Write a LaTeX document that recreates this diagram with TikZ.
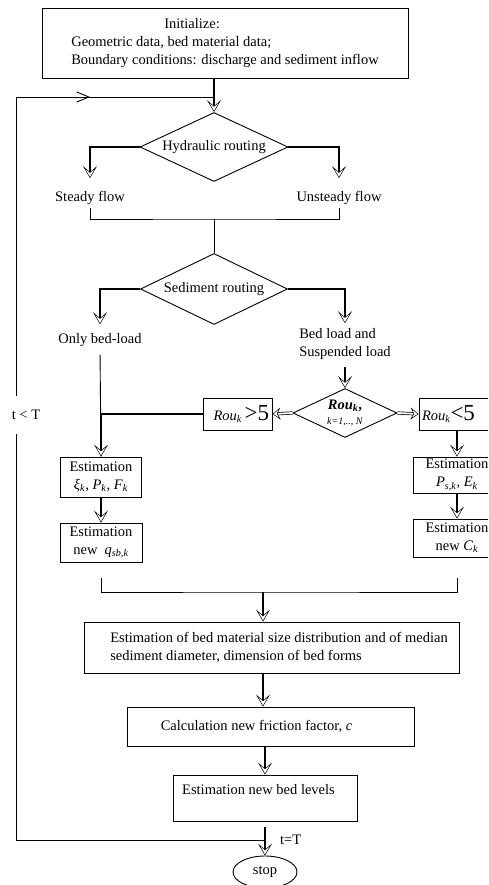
\documentclass[tikz,border=0pt]{standalone}
\usepackage{fontspec}
\setmainfont{Liberation Serif}
\usetikzlibrary{shapes.geometric,arrows.meta,positioning}
\newcommand{\fsize}{\fontsize{14.5}{18}\selectfont}

\begin{document}
\begin{tikzpicture}[x=1pt, y=-1pt,
  box/.style={rectangle, draw, line width=0.9pt, font=\fsize, align=center, inner sep=0pt},
  decision/.style={diamond, draw, line width=0.9pt, font=\fsize, align=center, inner sep=0pt},
  lbl/.style={font=\fsize, inner sep=3pt, align=left},
  line/.style={line width=0.9pt},
  flow/.style={line width=1.5pt, -{Stealth[fill=white, length=12pt, width=14pt, inset=6pt, line width=0.5pt]}},
  dflow/.style={double, double distance=1.8pt, line width=0.7pt, -{Stealth[fill=white, length=8pt, width=12pt, inset=3pt, line width=0.5pt]}},
  barb/.style={line width=0.9pt, -{Straight Barb[length=12pt, width=10pt]}}
]
\useasboundingbox (0,0) rectangle (488,885);
\clip (0,0) rectangle (488,885);

% Start and hydraulic routing
\node[box, align=left, minimum width=366pt, minimum height=70pt] (init) at (225,43)
  {\hspace*{93pt}Initialize:\\Geometric data, bed material data;\\Boundary conditions: discharge and sediment inflow};
\node[decision, minimum width=148pt, minimum height=69pt, aspect=2.14] (hyd) at (214,147) {Hydraulic routing};
\node[lbl] (steady) at (90,198) {Steady flow};
\node[lbl] (unsteady) at (339,198) {Unsteady flow};

% Sediment routing
\node[decision, minimum width=147pt, minimum height=71pt, aspect=2.07] (sed) at (214,289) {Sediment routing};
\node[lbl] (onlybed) at (100,340) {Only bed-load};
\node[lbl] (bedsusp) at (345,344) {Bed load and\\Suspended load};
\node[decision, minimum width=104pt, minimum height=49pt, aspect=2.12] (rou) at (345,413)
  {\textbf{\textit{Rou}}\textsubscript{\textbf{\textit{k}}}\textbf{,}\\[-3pt]{\fontsize{10}{11}\selectfont\textit{k=1,.., N}}};
\node[box, minimum width=69pt, minimum height=32pt, text width=63pt, align=right] (roug) at (237.5,414)
  {\textit{Rou}\textsubscript{\textit{k}}\,{\fontsize{23}{23}\selectfont >5}};
\node[box, minimum width=76pt, minimum height=32pt, text width=70pt, align=left] (roul) at (457,414)
  {\textit{Rou}\textsubscript{\textit{k}}{\fontsize{23}{23}\selectfont <5}};

% Estimation boxes, left and right
\node[box, minimum width=81pt, minimum height=40pt] (estxi) at (101,477)
  {Estimation\\\textit{ξ}\textsubscript{\textit{k}}, \textit{P}\textsubscript{\textit{k}}, \textit{F}\textsubscript{\textit{k}}};
\node[box, minimum width=82pt, minimum height=39pt] (estq) at (101,542.5)
  {Estimation\\new~ \textit{q}\textsubscript{\textit{sb,k}}};
\node[box, minimum width=88pt, minimum height=36pt] (estp) at (457,475)
  {Estimation\\\textit{P}\textsubscript{\textit{s,k}}, \textit{E}\textsubscript{\textit{k}}};
\node[box, minimum width=88pt, minimum height=38pt] (estc) at (457,538)
  {Estimation\\new \textit{C}\textsubscript{\textit{k}}};

% Bed update chain
\node[box, align=left, minimum width=375pt, minimum height=51pt] (bedmat) at (271.5,647.5)
  {\hspace*{15pt}Estimation of bed material size distribution and of median\\\hspace*{15pt}sediment diameter, dimension of bed forms};
\node[box, minimum width=287pt, minimum height=39pt] (calc) at (270.5,726.5)
  {Calculation new friction factor, \textit{c}\hspace*{28pt}};
\node[box, align=left, minimum width=184pt, minimum height=46pt] (bedlev) at (265,798)
  {Estimation new bed levels\hspace*{13pt}\\\mbox{}};
\node[ellipse, draw, line width=0.9pt, minimum width=64pt, minimum height=32pt, inner sep=0pt, font=\fsize] (stop) at (265,872) {stop};

\coordinate (topjoin) at (214,97);
\coordinate (looptop) at (16,97);
\coordinate (loopmid) at (90,97);
\coordinate (flowjoin) at (214,219);
\coordinate (mergeb) at (263,592);
\coordinate (tjunc) at (265,840);
\node[lbl, inner sep=0pt, right=15pt of tjunc] (teqT) {t=T};

\draw[flow] (init.south -| hyd.north) -- (hyd.north);
\draw[line] (tjunc) -| (looptop) -- (topjoin);
\draw[barb] (looptop) -- (loopmid);
\draw[flow, shorten >=10pt] (hyd.west) -| (steady.north);
\draw[flow, shorten >=10pt] (hyd.east) -| (unsteady.north);
\draw[line] (steady.south) |- (flowjoin) -| (unsteady.south);
\draw[line] (flowjoin) -- (sed.north);
\draw[flow, shorten >=6pt] (sed.west) -| (onlybed.north);
\draw[flow, shorten >=2pt] (sed.east) -| (bedsusp.north);
\draw[flow, shorten <=4pt] (bedsusp.south) -- (rou.north);
\draw[dflow] (rou.west) -- (roug.east);
\draw[dflow] (rou.east) -- (roul.west);
\draw[line, shorten <=5pt] (onlybed.south) -- (estxi.north);
\draw[flow] (roug.west) -| (estxi.north);
\draw[flow] (estxi.south) -- (estq.north);
\draw[flow] (roul.south) -- (estp.north);
\draw[flow] (estp.south) -- (estc.north);
\draw[line, shorten <=16pt, shorten >=21pt] (estq.south) |- (mergeb) -| (estc.south);
\draw[flow] (mergeb) -- (mergeb |- bedmat.north);
\draw[flow] (mergeb |- bedmat.south) -- (mergeb |- calc.north);
\draw[flow] (bedlev.north |- calc.south) -- (bedlev.north);
\draw[flow, shorten <=6pt] (bedlev.south) -- (stop.north);

% loop label sits over the return line
\node[lbl, fill=white, inner xsep=6pt, inner ysep=14pt] (tlt) at (26,415) {t < T};

\end{tikzpicture}
\end{document}
